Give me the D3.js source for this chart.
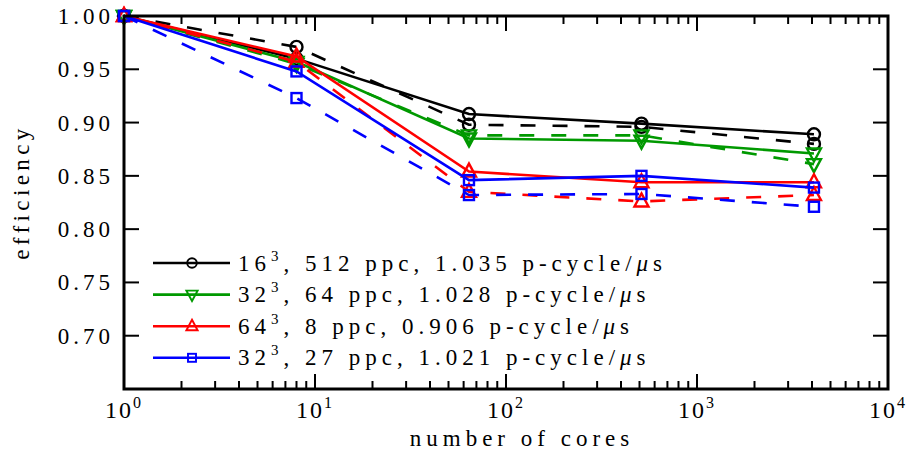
<!DOCTYPE html>
<html><head><meta charset="utf-8">
<script src="https://cdn.jsdelivr.net/npm/d3@7/dist/d3.min.js"></script>
<style>body{margin:0;background:#fff}svg{display:block}</style>
</head><body>
<svg id="c" width="910" height="452"></svg>
<script>
const cores = [1, 8, 64, 512, 4096];
const blackSolid  = [1.000, 0.960, 0.908, 0.899, 0.889];
const blackDashed = [1.000, 0.971, 0.898, 0.896, 0.880];
const greenSolid  = [1.000, 0.957, 0.885, 0.883, 0.871];
const greenDashed = [1.000, 0.955, 0.888, 0.888, 0.861];
const redSolid    = [1.000, 0.962, 0.854, 0.844, 0.844];
const redDashed   = [1.000, 0.957, 0.835, 0.826, 0.832];
const blueSolid   = [1.000, 0.948, 0.846, 0.850, 0.839];
const blueDashed  = [1.000, 0.923, 0.832, 0.833, 0.821];
const legendLabels = [
  ["16", "512 ppc, 1.035 p-cycle/"],
  ["32", "64 ppc, 1.028 p-cycle/"],
  ["64", "8 ppc, 0.906 p-cycle/"],
  ["32", "27 ppc, 1.021 p-cycle/"]
];
const yTicks = [0.70, 0.75, 0.80, 0.85, 0.90, 0.95, 1.00];
const xTicks = [1, 10, 100, 1000, 10000];

const series = [
  {v: blackSolid,  c: "#000000", m: "circle", dash: false},
  {v: blackDashed, c: "#000000", m: "circle", dash: true},
  {v: greenSolid,  c: "#009900", m: "tdown",  dash: false},
  {v: greenDashed, c: "#009900", m: "tdown",  dash: true},
  {v: redSolid,    c: "#ff0000", m: "tup",    dash: false},
  {v: redDashed,   c: "#ff0000", m: "tup",    dash: true},
  {v: blueSolid,   c: "#0000ff", m: "square", dash: false},
  {v: blueDashed,  c: "#0000ff", m: "square", dash: true}
];

const FONT = '"Liberation Serif", "Times New Roman", serif';
const L = 124, R = 888, T = 16, B = 389;
const svg = d3.select("#c");
const x = d3.scaleLog().domain([1, 10000]).range([L, R]);
const y = d3.scaleLinear().domain([0.65, 1.0]).range([B, T]);

const minor = [];
for (let d = 1; d < 10000; d *= 10) for (let k = 2; k <= 9; k++) minor.push(d * k);

const g = svg.append("g");
function tickLines(vals, len, horizontal) {
  vals.forEach(v => {
    if (horizontal) {
      const px = x(v);
      g.append("line").attr("x1", px).attr("x2", px).attr("y1", B).attr("y2", B - len);
      g.append("line").attr("x1", px).attr("x2", px).attr("y1", T).attr("y2", T + len);
    } else {
      const py = y(v);
      g.append("line").attr("x1", L).attr("x2", L + len).attr("y1", py).attr("y2", py);
      g.append("line").attr("x1", R).attr("x2", R - len).attr("y1", py).attr("y2", py);
    }
  });
}
tickLines(minor, 8, true);
tickLines(xTicks.slice(1, -1), 15, true);
tickLines(yTicks.filter(v => v < 1), 15, false);
g.selectAll("line").attr("stroke", "#000").attr("stroke-width", 2);

// y tick labels
svg.append("g").selectAll("text").data(yTicks).join("text")
  .attr("x", L - 10).attr("y", d => y(d) + 8)
  .attr("text-anchor", "end")
  .style("font-family", FONT).style("font-size", "23px").style("letter-spacing", "4px")
  .text(d => d.toFixed(2));

// x tick labels
const xl = svg.append("g").selectAll("text").data(xTicks).join("text")
  .attr("x", d => x(d)).attr("y", 418)
  .attr("text-anchor", "middle")
  .style("font-family", FONT).style("font-size", "24px").style("letter-spacing", "2px");
xl.append("tspan").text("10");
xl.append("tspan").attr("dy", -10).style("font-size", "16px").text(d => Math.round(Math.log10(d)));

// axis titles
svg.append("text").attr("x", 522).attr("y", 446).attr("text-anchor", "middle")
  .style("font-family", FONT).style("font-size", "23px").style("letter-spacing", "5px")
  .text("number of cores");
svg.append("text").attr("transform", "translate(29,192) rotate(-90)").attr("text-anchor", "middle")
  .style("font-family", FONT).style("font-size", "23px").style("letter-spacing", "4.4px")
  .text("efficiency");

// lines and markers
const line = d3.line().x((d, i) => x(cores[i])).y(d => y(d));
function marker(sel, m, c) {
  if (m === "circle") {
    sel.append("circle").attr("r", 6);
  } else if (m === "square") {
    sel.append("rect").attr("x", -5).attr("y", -5).attr("width", 10).attr("height", 10);
  } else if (m === "tup") {
    sel.append("path").attr("d", "M0,-8L7,5L-7,5Z");
  } else {
    sel.append("path").attr("d", "M0,8L7,-5L-7,-5Z");
  }
  sel.selectAll("*").attr("fill", "none").attr("stroke", c).attr("stroke-width", 2.4);
}
const plot = svg.append("g");
series.forEach(s => {
  plot.append("path").attr("d", line(s.v)).attr("fill", "none")
    .attr("stroke", s.c).attr("stroke-width", 2.6)
    .attr("stroke-dasharray", s.dash ? "15,17" : null);
  s.v.forEach((v, i) => {
    const mg = plot.append("g").attr("transform", `translate(${x(cores[i])},${y(v)})`);
    marker(mg, s.m, s.c);
  });
});

// frame
svg.append("rect").attr("x", L).attr("y", T).attr("width", R - L).attr("height", B - T)
  .attr("fill", "none").attr("stroke", "#000").attr("stroke-width", 3);

// legend
const solid = series.filter(s => !s.dash);
const lg = svg.append("g");
solid.forEach((s, i) => {
  const ly = 263 + i * 31.6;
  lg.append("line").attr("x1", 153).attr("x2", 230).attr("y1", ly).attr("y2", ly)
    .attr("stroke", s.c).attr("stroke-width", 2.6);
  const mg = lg.append("g").attr("transform", `translate(192,${ly}) scale(0.8)`);
  marker(mg, s.m, s.c);
  const t = lg.append("text").attr("x", 238).attr("y", ly + 7.5)
    .style("font-family", FONT).style("font-size", "23px").style("letter-spacing", "5px");
  t.append("tspan").text(legendLabels[i][0]);
  t.append("tspan").attr("dy", -10).style("font-size", "15px").text("3");
  t.append("tspan").attr("dy", 10).text(", " + legendLabels[i][1]);
  t.append("tspan").style("font-style", "italic").text("μ");
  t.append("tspan").text("s");
});
</script>
</body></html>
